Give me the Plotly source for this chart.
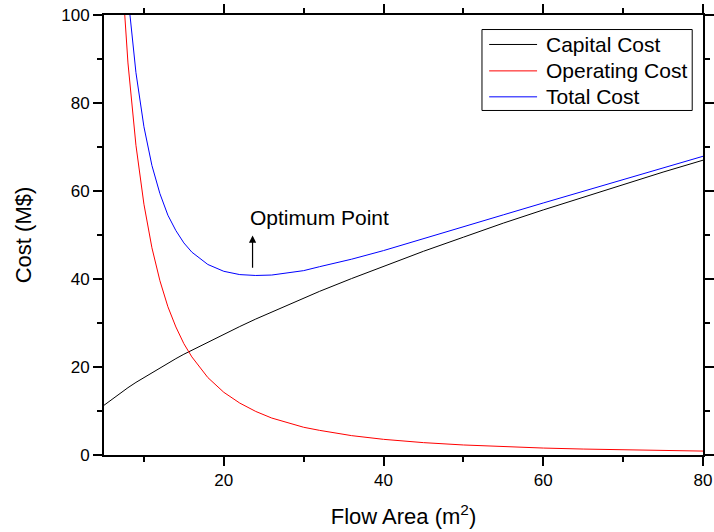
import plotly.graph_objects as go

# Flow area (m^2)
flow_area = [5, 6, 7, 7.5, 8, 9, 10, 11, 12, 13, 14, 15, 16, 18, 20, 22, 24, 26, 28,
             30, 32, 36, 40, 45, 50, 55, 60, 65, 70, 75, 80]
# Cost values (M$)
capital_cost = [11.3, 12.7, 14.0, 14.6, 15.3, 16.5, 17.6, 18.7, 19.8, 20.8, 21.9, 22.9, 23.8,
                25.7, 27.5, 29.2, 30.9, 32.5, 34.1, 35.6, 37.2, 40.1, 42.9, 46.3, 49.5,
                52.7, 55.7, 58.6, 61.5, 64.3, 67.0]
operating_cost = [228.0, 158.3, 116.3, 101.3, 89.1, 70.4, 57.0, 47.1, 39.6, 33.7, 29.1, 25.3,
                  22.3, 17.6, 14.25, 11.8, 9.9, 8.4, 7.3, 6.3, 5.6, 4.4, 3.56, 2.81, 2.28,
                  1.88, 1.58, 1.35, 1.16, 1.01, 0.89]
total_cost = [c + o for c, o in zip(capital_cost, operating_cost)]

series_names = ["Capital Cost", "Operating Cost", "Total Cost"]
series_colors = ["black", "red", "blue"]
series_values = [capital_cost, operating_cost, total_cost]

optimum_x = 23.6
optimum_tail_y = 42.2
optimum_head_y = 49.9

font_family = "Arial, Liberation Sans, sans-serif"

fig = go.Figure()
for name, color, values in zip(series_names, series_colors, series_values):
    fig.add_trace(go.Scatter(x=flow_area, y=values, mode="lines", name=name,
                             line=dict(color=color, width=1), showlegend=False))

fig.add_annotation(x=optimum_x, y=optimum_head_y, ax=optimum_x, ay=optimum_tail_y,
                   xref="x", yref="y", axref="x", ayref="y", showarrow=True,
                   arrowhead=2, arrowsize=1.2, arrowwidth=1.2, arrowcolor="black", text="")
fig.add_annotation(x=32, y=54, xref="x", yref="y", text="Optimum Point", showarrow=False,
                   font=dict(size=21, color="black", family=font_family))

# legend box drawn in paper coordinates
fig.add_shape(type="rect", xref="paper", yref="paper", x0=0.631, x1=0.982, y0=0.783, y1=0.967,
              line=dict(color="black", width=1), fillcolor="white", layer="above")
legend_rows = [0.933, 0.873, 0.814]
for name, color, ry in zip(series_names, series_colors, legend_rows):
    fig.add_shape(type="line", xref="paper", yref="paper", x0=0.643, x1=0.723, y0=ry, y1=ry,
                  line=dict(color=color, width=1), layer="above")
    fig.add_annotation(x=0.735, y=ry, xref="paper", yref="paper", text=name, showarrow=False,
                       xanchor="left", yanchor="middle",
                       font=dict(size=21, color="black", family=font_family))

axis_common = dict(showline=True, linecolor="black", linewidth=2, mirror="ticks",
                   ticks="outside", ticklen=9, tickwidth=1.5, tickcolor="black",
                   showgrid=False, zeroline=False, automargin=False,
                   tickfont=dict(size=17, color="black", family=font_family))

fig.update_xaxes(range=[5, 80], tick0=0, dtick=20,
                 minor=dict(ticks="outside", ticklen=5, tickwidth=1.5, tickcolor="black", dtick=10, tick0=0),
                 title=dict(text="Flow Area (m<sup>2</sup>)", font=dict(size=22, color="black", family=font_family),
                            standoff=19),
                 **axis_common)
fig.update_yaxes(range=[0, 100], tick0=0, dtick=20,
                 minor=dict(ticks="outside", ticklen=5, tickwidth=1.5, tickcolor="black", dtick=10, tick0=0),
                 title=dict(text="Cost (M$)", font=dict(size=22, color="black", family=font_family),
                            standoff=24),
                 **axis_common)

fig.update_layout(
    width=714, height=532,
    margin=dict(l=104, r=11, t=15, b=77, autoexpand=False),
    plot_bgcolor="white", paper_bgcolor="white",
    font=dict(family=font_family, color="black"),
    showlegend=False,
)

fig.write_html("out.html", config={"displayModeBar": False},
               post_script="document.body.style.margin='0px';")
